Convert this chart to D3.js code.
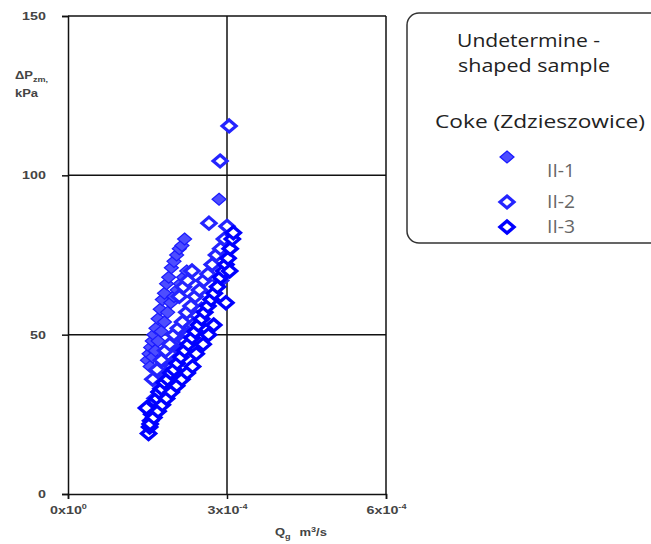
<!DOCTYPE html>
<html>
<head>
<meta charset="utf-8">
<script src="https://cdn.jsdelivr.net/npm/d3@7"></script>
<style>
  body { margin: 0; background: #fff; }
  svg { display: block; }
</style>
</head>
<body>
<div id="chart"></div>
<script>
// flow rate in units of 1e-4 m3/s, pressure drop in kPa
const seriesNames = ["II-1", "II-2", "II-3"];

const x1 = [1.50, 1.53, 1.56, 1.59, 1.62, 1.66, 1.70, 1.74, 1.78, 1.82, 1.86, 1.90, 1.95, 2.00, 2.05, 2.10, 2.15, 2.20,
            1.55, 1.60, 1.65, 1.70, 1.76, 1.82, 1.88, 1.94, 2.00, 2.06, 2.12, 2.18, 2.24,
            1.58, 1.65, 1.72, 1.79, 1.86, 1.93, 2.00, 2.85];
const y1 = [42, 44, 46, 48, 50, 52, 55, 58, 61, 63, 66, 68, 71, 73, 75, 77, 78, 80,
            40, 43, 45, 48, 51, 54, 57, 60, 62, 64, 66, 68, 70,
            28, 30, 33, 35, 37, 39, 42, 92.5];

const x2 = [1.60, 1.68, 1.76, 1.84, 1.92, 2.00, 2.08, 2.16, 2.24, 2.32, 2.40, 2.48, 2.56, 2.64, 2.72, 2.80, 2.88, 2.95,
            1.64, 1.72, 1.80, 1.88, 1.96, 2.04, 2.12, 2.20, 2.28, 2.36, 2.44, 2.52,
            2.10, 2.18, 2.26, 2.34, 2.66, 2.87, 3.04, 3.00, 2.88];
const y2 = [36, 39, 42, 45, 47, 50, 52, 54, 57, 59, 62, 64, 67, 69, 72, 75, 77, 80,
            30, 32, 35, 37, 40, 42, 45, 48, 50, 53, 56, 58,
            62, 65, 67, 70, 85, 104.5, 115.5, 84, 67];

const x3 = [1.52, 1.54, 1.56, 1.58, 1.61, 1.64, 1.68, 1.72, 1.77, 1.82, 1.88, 1.94, 2.00, 2.06, 2.13, 2.20, 2.27,
            2.34, 2.40, 2.46, 2.52, 2.58, 2.64, 2.70, 2.76, 2.82, 2.88, 2.94, 2.98, 3.02, 3.06, 3.10, 3.12,
            1.48, 1.55, 1.62, 1.70, 1.78, 1.86, 1.95, 2.05, 2.15, 2.25, 2.35, 2.42, 2.55, 2.65, 2.75, 2.98, 3.05];
const y3 = [19, 21, 23, 25, 27, 29, 30, 32, 33, 35, 36, 38, 39, 41, 43, 45, 47,
            49, 51, 53, 55, 57, 59, 61, 63, 65, 68, 70, 72, 74, 77, 80, 82,
            27, 22, 24, 26, 28, 30, 32, 34, 36, 38, 40, 44, 47, 50, 53, 60, 70];

const xTicks = [0, 3, 6];
const yTicks = [0, 50, 100, 150];

const W = 651, H = 544;
const plot = { left: 68, right: 386, top: 16, bottom: 494 };
const stretch = 1.3; // the labels of the original are drawn wide

const svg = d3.select("#chart").append("svg")
    .attr("width", W)
    .attr("height", H);

const xScale = d3.scaleLinear().domain([0, 6]).range([plot.left, plot.right]);
const yScale = d3.scaleLinear().domain([0, 150]).range([plot.bottom, plot.top]);

// grid lines
svg.append("g")
    .selectAll("line")
    .data(yTicks.filter(d => d > 0))
    .enter().append("line")
    .attr("x1", plot.left).attr("x2", plot.right)
    .attr("y1", d => yScale(d)).attr("y2", d => yScale(d))
    .attr("stroke", "#111").attr("stroke-width", 1.5);

svg.append("g")
    .selectAll("line")
    .data(xTicks.filter(d => d > 0))
    .enter().append("line")
    .attr("y1", plot.top).attr("y2", plot.bottom)
    .attr("x1", d => xScale(d)).attr("x2", d => xScale(d))
    .attr("stroke", "#111").attr("stroke-width", 1.5);

// axes
const yAxis = svg.append("g")
    .attr("transform", `translate(${plot.left},0)`)
    .call(d3.axisLeft(yScale).tickValues(yTicks).tickSize(6).tickPadding(11));

const xAxis = svg.append("g")
    .attr("transform", `translate(0,${plot.bottom})`)
    .call(d3.axisBottom(xScale).tickValues(xTicks).tickSize(5).tickFormat(() => ""));

[xAxis, yAxis].forEach(a => {
    a.select(".domain").attr("stroke", "#111").attr("stroke-width", 1.5);
    a.selectAll(".tick line").attr("stroke", "#111").attr("stroke-width", 1.5);
    a.selectAll("text")
        .attr("fill", "#444")
        .attr("transform", `scale(${stretch},1)`)
        .style("font-family", "Liberation Sans, Arial, sans-serif")
        .style("font-weight", "bold")
        .style("font-size", "11px");
});

// x tick labels with powers of ten
xAxis.selectAll(".tick text").each(function(d) {
    const t = d3.select(this).attr("dy", null).attr("y", 20);
    t.append("tspan").text(d + "x10");
    t.append("tspan").text(d === 0 ? "0" : "-4")
        .attr("dy", -5).style("font-size", "7px");
});

// axis titles
const title = svg.append("g")
    .attr("fill", "#444")
    .style("font-family", "Liberation Sans, Arial, sans-serif")
    .style("font-weight", "bold")
    .style("font-size", "10px");

const yt = title.append("text").attr("transform", `translate(15,79) scale(${stretch},1)`);
yt.append("tspan").text("ΔP");
yt.append("tspan").text("zm,").attr("dy", 3).style("font-size", "7px");
title.append("text").attr("transform", `translate(15,97) scale(${stretch},1)`).text("kPa");

const xt = title.append("text").attr("transform", `translate(275,536) scale(${stretch},1)`);
xt.append("tspan").text("Q");
xt.append("tspan").text("g").attr("dy", 3).style("font-size", "7px");
xt.append("tspan").text(" m").attr("dy", -3).attr("dx", 4);
xt.append("tspan").text("3").attr("dy", -4).style("font-size", "7px");
xt.append("tspan").text("/s").attr("dy", 4);

// markers
const diamond = "M0,-6L7,0L0,6L-7,0Z";
const styles = [
    { fill: "#4d4dff", stroke: "#1a1aff", width: 1.2 },
    { fill: "#fff", stroke: "#2424ff", width: 3.2 },
    { fill: "#fff", stroke: "#0000ff", width: 3.4 }
];

const series = [
    x1.map((x, i) => ({ x: x, y: y1[i] })),
    x2.map((x, i) => ({ x: x, y: y2[i] })),
    x3.map((x, i) => ({ x: x, y: y3[i] }))
];

series.forEach((pts, k) => {
    svg.append("g")
        .selectAll("path")
        .data(pts)
        .enter().append("path")
        .attr("d", diamond)
        .attr("transform", d => `translate(${xScale(d.x)},${yScale(d.y)})`)
        .attr("fill", styles[k].fill)
        .attr("stroke", styles[k].stroke)
        .attr("stroke-width", styles[k].width);
});

// legend box
const legend = svg.append("g");
legend.append("rect")
    .attr("x", 407).attr("y", 13)
    .attr("width", 270).attr("height", 230)
    .attr("rx", 12)
    .attr("fill", "#fff")
    .attr("stroke", "#333").attr("stroke-width", 1.5);

const legendLines = ["Undetermine -", "shaped sample", "Coke (Zdzieszowice)"];
const legendLineX = [457, 458, 435];
const legendLineY = [47, 72, 128];
const legendLineW = [143, 152, 210];
legendLines.forEach((s, i) => {
    legend.append("text")
        .attr("x", legendLineX[i]).attr("y", legendLineY[i])
        .attr("textLength", legendLineW[i])
        .attr("lengthAdjust", "spacingAndGlyphs")
        .attr("fill", "#222")
        .style("font-family", "Open Sans, sans-serif")
        .style("font-size", "18px")
        .text(s);
});

const legendMarkerY = [157, 202, 227];
const legendLabelY = [177, 208, 233];
seriesNames.forEach((name, k) => {
    legend.append("path")
        .attr("d", diamond)
        .attr("transform", `translate(507,${legendMarkerY[k]})`)
        .attr("fill", styles[k].fill)
        .attr("stroke", styles[k].stroke)
        .attr("stroke-width", styles[k].width);
    legend.append("text")
        .attr("x", 547).attr("y", legendLabelY[k])
        .attr("textLength", 28)
        .attr("lengthAdjust", "spacingAndGlyphs")
        .attr("fill", "#666")
        .style("font-family", "Open Sans, sans-serif")
        .style("font-size", "18px")
        .text(name);
});
</script>
</body>
</html>
